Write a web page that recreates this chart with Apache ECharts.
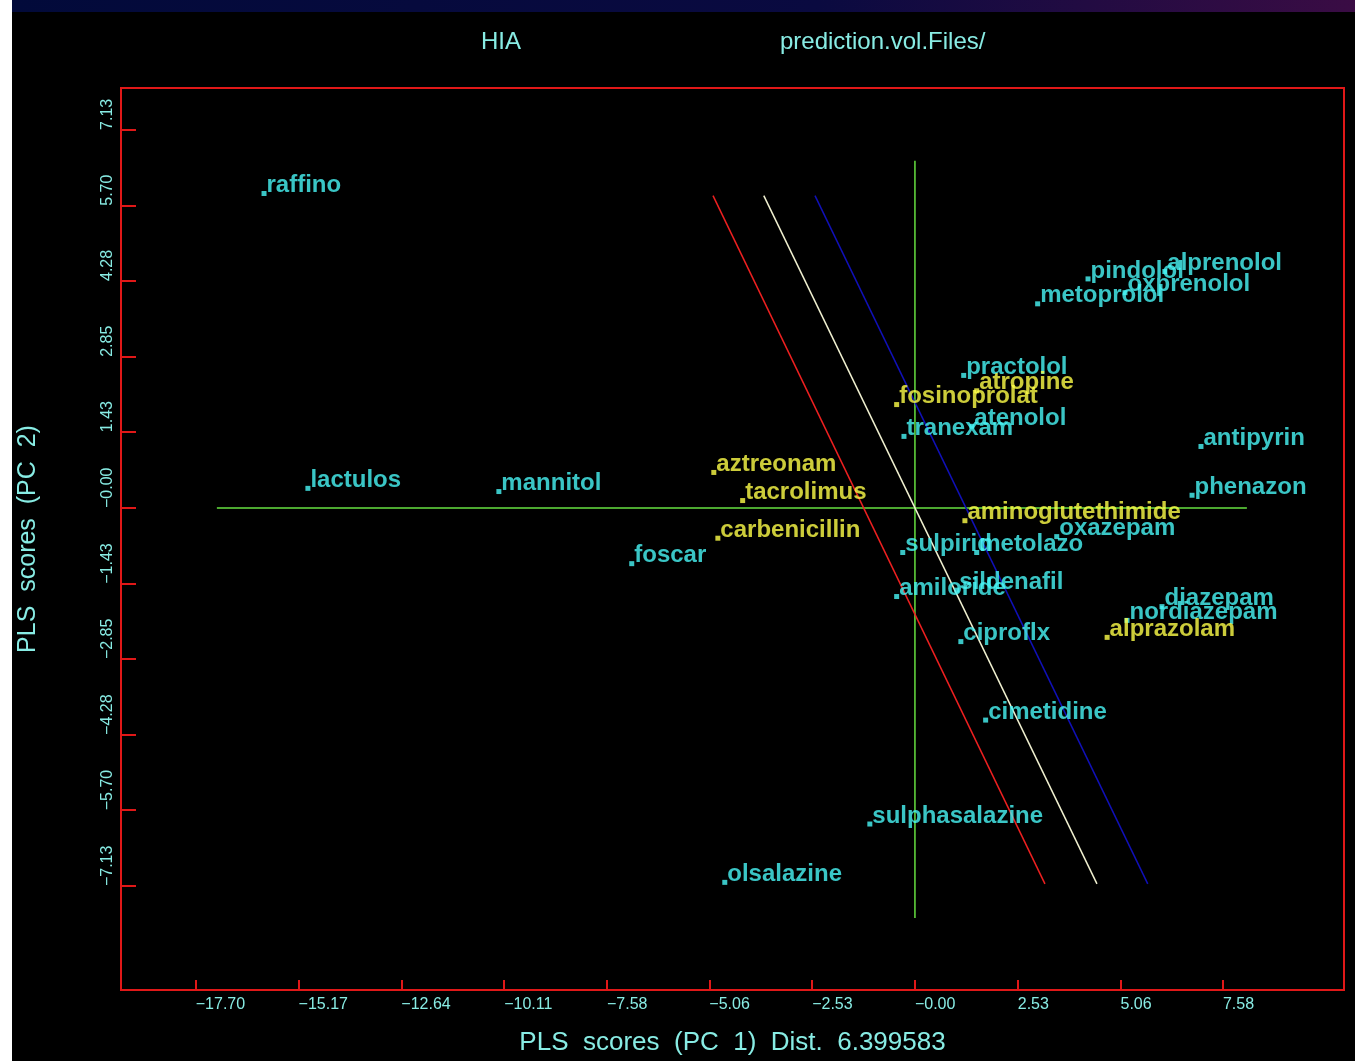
<!DOCTYPE html>
<html>
<head>
<meta charset="utf-8">
<script src="https://cdn.jsdelivr.net/npm/echarts@6/dist/echarts.min.js"></script>
<style>
html, body { margin: 0; padding: 0; background: #000; }
#chart { width: 1355px; height: 1061px; }
</style>
</head>
<body>
<div id="chart"></div>
<script>
// compound names and their PLS scores (PC1, PC2)
const names = ['raffino', 'lactulos', 'mannitol', 'aztreonam', 'tacrolimus', 'carbenicillin', 'foscar',
  'pindolol', 'alprenolol', 'oxprenolol', 'metoprolol', 'practolol', 'atropine', 'fosinoprolat',
  'atenolol', 'tranexam', 'antipyrin', 'phenazon', 'aminoglutethimide', 'oxazepam', 'sulpirid',
  'metolazo', 'sildenafil', 'amiloride', 'diazepam', 'nordiazepam', 'alprazolam', 'ciproflx',
  'cimetidine', 'sulphasalazine', 'olsalazine'];
const pc1 = [-16.02, -14.94, -10.24, -4.95, -4.24, -4.85, -6.97,
  4.26, 6.15, 5.17, 3.02, 1.20, 1.52, -0.45,
  1.40, -0.27, 7.04, 6.82, 1.23, 3.49, -0.30,
  1.52, 1.03, -0.45, 6.08, 5.22, 4.73, 1.13,
  1.74, -1.11, -4.68];
const pc2 = [5.93, 0.37, 0.31, 0.67, 0.14, -0.57, -1.05,
  4.32, 4.46, 4.06, 3.85, 2.50, 2.21, 1.95,
  1.54, 1.35, 1.16, 0.24, -0.24, -0.54, -0.84,
  -0.84, -1.55, -1.67, -1.86, -2.12, -2.44, -2.52,
  -4.00, -5.96, -7.06];
// 1 = yellow label, 0 = cyan label
const group = [0, 0, 0, 1, 1, 1, 0,
  0, 0, 0, 0, 0, 1, 1,
  0, 0, 0, 0, 1, 0, 0,
  0, 0, 0, 0, 0, 1, 0,
  0, 0, 0];

// reference lines (end points in score units)
const hLine = [[-17.18, 0], [8.17, 0]];
const vLine = [[0, 6.55], [0, -7.73]];
const redLine = [[-4.97, 5.89], [3.20, -7.09]];
const whiteLine = [[-3.72, 5.89], [4.48, -7.09]];
const blueLine = [[-2.46, 5.89], [5.73, -7.09]];

// axis ticks
const xTicks = [-17.70, -15.17, -12.64, -10.11, -7.58, -5.06, -2.53, 0, 2.53, 5.06, 7.58];
const xTickLabels = ['−17.70', '−15.17', '−12.64', '−10.11', '−7.58', '−5.06', '−2.53', '−0.00', '2.53', '5.06', '7.58'];
const yTicks = [-7.13, -5.70, -4.28, -2.85, -1.43, 0, 1.43, 2.85, 4.28, 5.70, 7.13];
const yTickLabels = ['−7.13', '−5.70', '−4.28', '−2.85', '−1.43', '−0.00', '1.43', '2.85', '4.28', '5.70', '7.13'];

const cyan = '#48f6f6';
const yellow = '#ffff48';
const textCol = '#88ece4';
const axisRed = '#e01818';
const font = 'Liberation Sans';

function tickLabel(ticks, labels) {
  return function (v) {
    const i = ticks.findIndex(t => Math.abs(t - v) < 1e-6);
    return i >= 0 ? labels[i] : '';
  };
}

function pointSeries(g, color) {
  const data = [];
  names.forEach((n, i) => {
    if (group[i] === g) data.push({ name: n, value: [pc1[i], pc2[i]] });
  });
  return {
    type: 'scatter',
    symbol: 'rect',
    symbolSize: 5,
    itemStyle: { color: color },
    z: 5,
    label: {
      show: true,
      formatter: '{b}',
      position: 'right',
      distance: 0,
      offset: [0, -8],
      color: color,
      fontSize: 24,
      fontWeight: 'bold',
      fontFamily: font
    },
    data: data
  };
}

function lineSeries(pts, color) {
  return {
    type: 'line',
    symbol: 'none',
    silent: true,
    z: 2,
    lineStyle: { color: color, width: 1.5 },
    data: pts
  };
}

const myChart = echarts.init(document.getElementById('chart'));
myChart.setOption({
  backgroundColor: '#000',
  animation: false,
  graphic: [
    { type: 'rect', shape: { x: 0, y: 0, width: 12, height: 1061 }, style: { fill: '#fff' } },
    {
      type: 'rect', shape: { x: 12, y: 0, width: 1343, height: 12 },
      style: {
        fill: new echarts.graphic.LinearGradient(0, 0, 1, 0, [
          { offset: 0, color: '#020a3a' },
          { offset: 0.6, color: '#0a0a40' },
          { offset: 1, color: '#3a0c44' }
        ])
      }
    }
  ],
  title: [
    { text: 'HIA', left: 476, top: 25, textStyle: { color: textCol, fontSize: 24, fontWeight: 'normal', fontFamily: font } },
    { text: 'prediction.vol.Files/', left: 775, top: 25, textStyle: { color: textCol, fontSize: 24, fontWeight: 'normal', fontFamily: font } }
  ],
  grid: {
    left: 121, right: 11, top: 88, bottom: 70,
    show: true, borderColor: axisRed, borderWidth: 2, backgroundColor: '#000'
  },
  xAxis: {
    type: 'value',
    min: -19.54, max: 10.56,
    name: 'PLS  scores  (PC  1)  Dist.  6.399583',
    nameLocation: 'middle',
    nameGap: 40,
    nameTextStyle: { color: textCol, fontSize: 26, fontFamily: font },
    axisLine: { show: true, onZero: false, lineStyle: { color: axisRed, width: 2 } },
    axisTick: { show: true, inside: true, length: 10, customValues: xTicks, lineStyle: { color: axisRed, width: 2 } },
    axisLabel: {
      customValues: xTicks,
      formatter: tickLabel(xTicks, xTickLabels),
      color: textCol, fontSize: 16, fontFamily: font,
      align: 'left', margin: 7
    },
    splitLine: { show: false }
  },
  yAxis: {
    type: 'value',
    min: -9.09, max: 7.92,
    name: 'PLS  scores  (PC  2)',
    nameLocation: 'middle',
    nameGap: 80,
    nameTextStyle: { color: textCol, fontSize: 25, fontFamily: font },
    axisLine: { show: true, onZero: false, lineStyle: { color: axisRed, width: 2 } },
    axisTick: { show: true, inside: true, length: 15, customValues: yTicks, lineStyle: { color: axisRed, width: 2 } },
    axisLabel: {
      customValues: yTicks,
      formatter: tickLabel(yTicks, yTickLabels),
      color: textCol, fontSize: 16, fontFamily: font,
      rotate: 90, align: 'left', verticalAlign: 'middle', margin: 13
    },
    splitLine: { show: false }
  },
  series: [
    lineSeries(hLine, '#66e040'),
    lineSeries(vLine, '#66e040'),
    lineSeries(redLine, '#ee2020'),
    lineSeries(whiteLine, '#f0f0d0'),
    lineSeries(blueLine, '#1010b8'),
    pointSeries(0, cyan),
    pointSeries(1, yellow)
  ]
});
</script>
</body>
</html>
